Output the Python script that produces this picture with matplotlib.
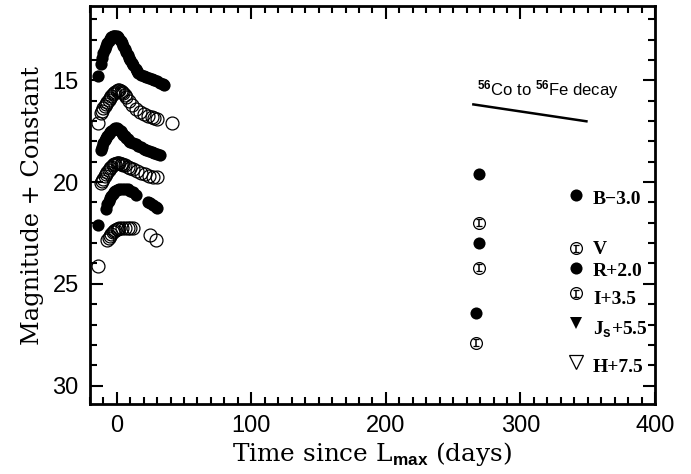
import matplotlib.pyplot as plt
import numpy as np

plt.rcParams['mathtext.fontset'] = 'custom'
plt.rcParams['mathtext.rm'] = 'Liberation Sans'
plt.rcParams['mathtext.it'] = 'Liberation Sans'
plt.rcParams['mathtext.bf'] = 'Liberation Sans:bold'

# early-time light curves: days since L_max, magnitude + constant
b_days = [-14, -12, -11, -10, -9, -8, -7, -6, -5, -4, -3, -2, -1, 0, 1, 2, 3, 4, 5, 6, 7, 8,
          9, 10, 11, 12, 14, 15, 16, 18, 20, 22, 24, 26, 28, 30, 32, 34, 35]
b_mag = [14.8, 14.2, 13.9, 13.65, 13.45, 13.3, 13.15, 13.05, 12.95, 12.87, 12.82, 12.8, 12.8,
         12.82, 12.87, 12.95, 13.05, 13.15, 13.3, 13.45, 13.6, 13.75, 13.88, 14.0, 14.12, 14.25,
         14.45, 14.55, 14.62, 14.72, 14.78, 14.85, 14.88, 14.92, 14.97, 15.05, 15.12, 15.2, 15.25]

v_days = [-14, -12, -11, -10, -9, -8, -7, -6, -5, -4, -3, -2, -1, 0, 1, 2, 3, 4, 5, 6, 7, 9,
          11, 14, 17, 20, 23, 26, 28, 30, 41]
v_mag = [17.1, 16.6, 16.5, 16.35, 16.25, 16.15, 16.05, 15.95, 15.85, 15.75, 15.68, 15.6, 15.55,
         15.5, 15.48, 15.47, 15.5, 15.55, 15.6, 15.7, 15.8, 16.0, 16.2, 16.4, 16.55, 16.65, 16.75,
         16.8, 16.85, 16.9, 17.1]

r_days = [-12, -11, -10, -9, -8, -7, -6, -5, -4, -3, -2, -1, 0, 1, 2, 3, 4, 5, 6, 7, 8, 9, 10,
          12, 14, 16, 18, 20, 22, 24, 26, 28, 30, 32]
r_mag = [18.4, 18.25, 18.1, 17.95, 17.85, 17.75, 17.65, 17.55, 17.48, 17.42, 17.38, 17.36, 17.36,
         17.38, 17.43, 17.5, 17.58, 17.66, 17.75, 17.83, 17.9, 17.97, 18.02, 18.1, 18.15, 18.2,
         18.28, 18.35, 18.4, 18.45, 18.5, 18.57, 18.63, 18.68]

i_days = [-12, -11, -10, -9, -8, -7, -6, -5, -4, -3, -2, -1, 0, 1, 2, 3, 4, 5, 6, 8, 10, 12, 15,
          18, 21, 24, 27, 30]
i_mag = [20.05, 19.95, 19.85, 19.72, 19.6, 19.5, 19.4, 19.32, 19.25, 19.18, 19.13, 19.1, 19.08,
         19.07, 19.08, 19.1, 19.12, 19.15, 19.18, 19.25, 19.3, 19.35, 19.45, 19.55, 19.62, 19.7,
         19.73, 19.75]

j_days = [-14, -8, -7, -6, -5, -4, -3, -2, -1, 0, 2, 4, 6, 8, 10, 12, 14, 23, 25, 27, 29, 30]
j_mag = [22.1, 21.3, 21.1, 20.95, 20.8, 20.7, 20.6, 20.5, 20.45, 20.4, 20.35, 20.32, 20.32,
         20.35, 20.42, 20.5, 20.62, 20.98, 21.05, 21.12, 21.2, 21.28]

h_days = [-14, -7, -6, -5, -4, -3, -2, -1, 0, 1, 2, 4, 6, 8, 10, 12, 25, 29]
h_mag = [24.1, 22.85, 22.75, 22.65, 22.55, 22.45, 22.38, 22.33, 22.3, 22.28, 22.27, 22.25,
         22.25, 22.25, 22.25, 22.27, 22.6, 22.85]

# late-time photometry
late_filled_days = [269, 269, 267]
late_filled_mag = [19.6, 23.0, 26.45]
late_open_days = [269, 269, 267]
late_open_mag = [22.0, 24.2, 27.9]
late_open_err = [0.17, 0.17, 0.17]

# 56Co -> 56Fe decay slope
decay_days = [265, 349]
decay_mag = [16.18, 17.01]

legend_labels = ['B\u22123.0', 'V', 'R+2.0', 'I+3.5', r'J$_{\mathbf{s}}$+5.5', 'H+7.5']
legend_kinds = ['filled', 'open_err', 'filled', 'open_err', 'tri_filled', 'tri_open']

fig = plt.figure(figsize=(6.91, 4.74), dpi=100)
ax = fig.add_axes([0.130, 0.148, 0.818, 0.839])

for d, m, filled in [(b_days, b_mag, True), (v_days, v_mag, False), (r_days, r_mag, True),
                     (i_days, i_mag, False), (j_days, j_mag, True), (h_days, h_mag, False)]:
    if filled:
        ax.plot(d, m, 'o', color='black', ms=8.8, mew=0)
    else:
        ax.plot(d, m, 'o', mfc='none', mec='black', ms=9.3, mew=0.9)

ax.plot(late_filled_days, late_filled_mag, 'o', color='black', ms=8.7, mew=0)
ax.errorbar(late_open_days, late_open_mag, yerr=late_open_err, fmt='o', mfc='none',
            mec='black', ecolor='black', ms=8.5, mew=0.9, elinewidth=1.1, capsize=2.3,
            capthick=1.1)

ax.plot(decay_days, decay_mag, '-', color='black', lw=1.8)
ax.text(268, 15.72, r'$^{\mathbf{56}}$Co to $^{\mathbf{56}}$Fe decay', fontsize=12,
        family='Liberation Sans', va='baseline', ha='left')

# hand-placed key on the right
key_marker_y = [0.525, 0.391, 0.341, 0.278, 0.203, 0.106]
key_text_y = [0.514, 0.389, 0.333, 0.263, 0.188, 0.092]
for lab, kind, my, ty in zip(legend_labels, legend_kinds, key_marker_y, key_text_y):
    tr = ax.transAxes
    if kind == 'filled':
        ax.plot([0.861], [my], 'o', color='black', ms=8.7, mew=0, transform=tr)
    elif kind == 'open_err':
        ax.errorbar([0.861], [my], yerr=[0.0085], fmt='o', mfc='none', mec='black',
                    ecolor='black', ms=8.5, mew=0.9, elinewidth=1.1, capsize=2.3,
                    capthick=1.1, transform=tr)
    elif kind == 'tri_filled':
        ax.plot([0.861], [my], 'v', color='black', ms=9, mew=0, transform=tr)
    else:
        ax.plot([0.861], [my], 'v', mfc='none', mec='black', ms=9.5, mew=0.9, transform=tr)
    ax.text(0.890, ty, lab, transform=tr, fontsize=14, family='Liberation Serif',
            fontweight='bold', va='center', ha='left')

ax.set_xlim(-20, 400)
ax.set_ylim(30.9, 11.35)
ax.set_xticks([0, 100, 200, 300, 400])
ax.set_xticks(np.arange(-20, 401, 10), minor=True)
ax.set_yticks([15, 20, 25, 30])
ax.set_yticks(np.arange(12, 31, 1), minor=True)
ax.tick_params(which='both', direction='in', top=True, right=True, width=1.5)
ax.tick_params(which='major', length=9, labelsize=17, pad=8)
ax.tick_params(which='minor', length=5)
for lab in ax.get_xticklabels() + ax.get_yticklabels():
    lab.set_family('Liberation Sans')
for s in ax.spines.values():
    s.set_linewidth(2)

ax.set_xlabel(r'Time since L$_{\mathbf{max}}$ (days)', fontsize=17.8, family='DejaVu Serif',
              labelpad=2)
ax.set_ylabel('Magnitude + Constant', fontsize=17.4, family='DejaVu Serif', labelpad=6)

fig.savefig('out.png', dpi=100)
